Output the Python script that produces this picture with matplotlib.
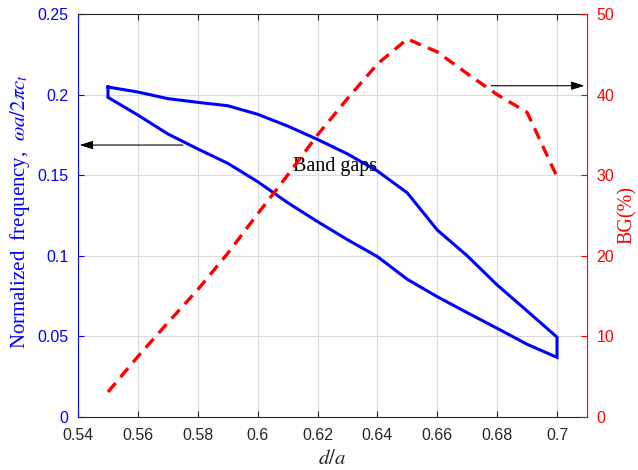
import matplotlib
matplotlib.use("Agg")
import matplotlib.pyplot as plt
import numpy as np

d_a = [0.55, 0.56, 0.57, 0.58, 0.59, 0.60, 0.61, 0.62,
       0.63, 0.64, 0.65, 0.66, 0.67, 0.68, 0.69, 0.70]

gap_top = [0.2047, 0.2016, 0.1975, 0.1952, 0.1931, 0.1878, 0.1805, 0.1722,
           0.1632, 0.1526, 0.1390, 0.1160, 0.1000, 0.0819, 0.0658, 0.0495]
gap_bottom = [0.1983, 0.1873, 0.1756, 0.1663, 0.1574, 0.1460, 0.1330, 0.1212,
              0.1100, 0.0995, 0.0854, 0.0746, 0.0647, 0.0550, 0.0451, 0.0370]

bg_pct = [3.1, 7.5, 11.7, 15.8, 20.3, 25.2, 30.0, 35.0,
          39.5, 43.8, 46.9, 45.3, 42.6, 40.0, 37.8, 29.8]

x_ticks = [0.54, 0.56, 0.58, 0.6, 0.62, 0.64, 0.66, 0.68, 0.7]
x_labels = ["0.54", "0.56", "0.58", "0.6", "0.62", "0.64", "0.66", "0.68", "0.7"]
left_ticks = [0, 0.05, 0.1, 0.15, 0.2, 0.25]
left_labels = ["0", "0.05", "0.1", "0.15", "0.2", "0.25"]
right_ticks = [0, 10, 20, 30, 40, 50]

plt.rcParams["font.family"] = ["Liberation Sans", "DejaVu Sans"]
plt.rcParams["mathtext.fontset"] = "stix"
plt.rcParams["lines.scale_dashes"] = False

blue = "#0000ff"
red = "#ff0000"
dark = "#262626"
serif = ["Liberation Serif", "DejaVu Serif"]

fig = plt.figure(figsize=(6.38, 4.70), dpi=100)
ax = fig.add_axes([0.1223, 0.1128, 0.7977, 0.8574])

# band gap loop: upper edge, then lower edge back, closed
loop_x = d_a + d_a[::-1] + [d_a[0]]
loop_y = gap_top + gap_bottom[::-1] + [gap_top[0]]
ax.plot(loop_x, loop_y, color=blue, lw=2.2, solid_joinstyle="miter")

ax.set_xlim(0.54, 0.71)
ax.set_ylim(0, 0.25)
ax.set_xticks(x_ticks)
ax.set_xticklabels(x_labels)
ax.set_yticks(left_ticks)
ax.set_yticklabels(left_labels)
ax.grid(True, color="#dcdcdc", lw=0.9)
ax.set_axisbelow(True)
ax.tick_params(axis="x", direction="in", colors=dark, labelsize=11.5, top=True,
               length=4, pad=8)
ax.tick_params(axis="y", direction="in", colors=blue, labelsize=11.5, length=4, pad=7)
ax.spines["left"].set_color(blue)
ax.spines["bottom"].set_color(dark)
ax.spines["top"].set_color(dark)
ax.spines["right"].set_visible(False)

ax.set_xlabel("$d/a$", fontsize=15, color=dark, labelpad=4)
ax.set_ylabel("Normalized  frequency,  $\\omega a/2\\pi c_t$", fontsize=15,
              color=blue, family=serif, va="center", ha="center")
ax.yaxis.set_label_coords(-0.114, 0.51)

ax.text(0.6117, 0.1555, "Band gaps", fontsize=14.5, family=serif, color="black",
        va="center", ha="left")

ax.annotate("", xy=(0.5405, 0.1687), xytext=(0.575, 0.1687),
            arrowprops=dict(arrowstyle="-|>,head_length=0.8,head_width=0.25",
                            color="black", lw=0.8, shrinkA=0, shrinkB=0))

ax2 = ax.twinx()
ax2.plot(d_a, bg_pct, color=red, lw=2.4, dashes=(8.5, 5.5))
ax2.set_ylim(0, 50)
ax2.set_yticks(right_ticks)
ax2.tick_params(axis="y", direction="in", colors=red, labelsize=11.5, length=4, pad=7)
ax2.spines["right"].set_color(red)
ax2.spines["left"].set_visible(False)
ax2.spines["top"].set_visible(False)
ax2.spines["bottom"].set_visible(False)
ax2.set_ylabel("BG(%)", fontsize=14.5, color=red, family=serif,
               va="center", ha="center", rotation=90)
ax2.yaxis.set_label_coords(1.08, 0.5)

ax2.annotate("", xy=(0.7092, 41.1), xytext=(0.678, 41.1),
             arrowprops=dict(arrowstyle="-|>,head_length=0.8,head_width=0.25",
                             color="black", lw=0.8, shrinkA=0, shrinkB=0))

fig.savefig("out.png", dpi=100)
